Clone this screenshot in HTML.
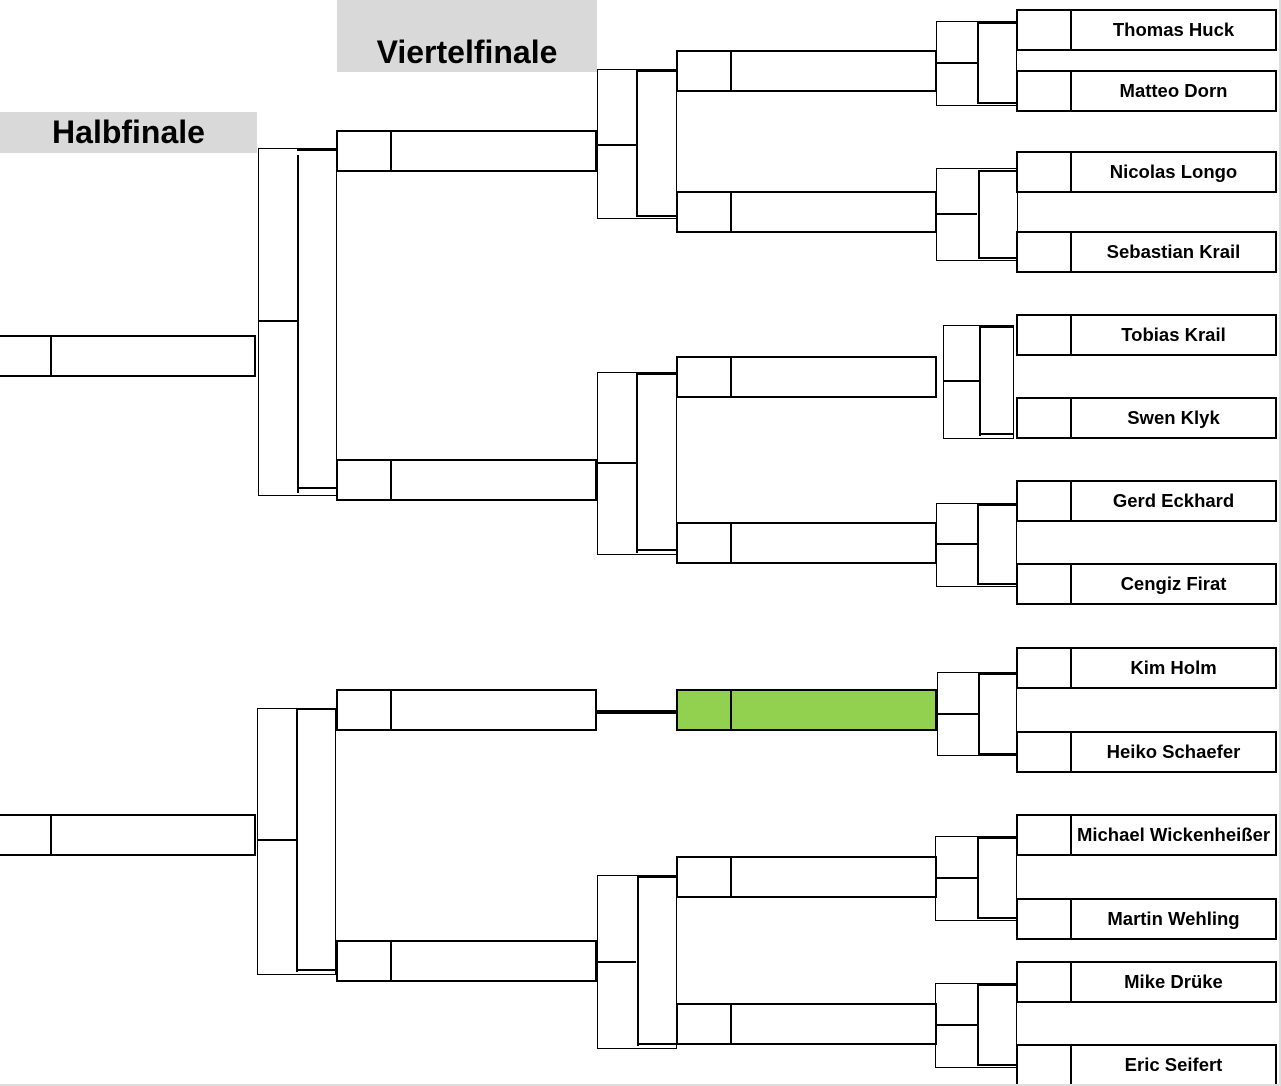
<!DOCTYPE html>
<html><head><meta charset="utf-8"><style>
body{margin:0;width:1281px;height:1086px;position:relative;overflow:hidden;background:#fff;font-family:"Liberation Sans",Arial,sans-serif}
div{position:absolute;box-sizing:border-box}
.b{border:2px solid #000;height:42px;background:#fff}
.b i{position:absolute;left:52px;top:0;bottom:0;border-left:2px solid #000}
.b span{position:absolute;left:54px;right:0;top:0;bottom:0;display:flex;align-items:center;justify-content:center;font-weight:bold;font-size:18.5px;color:#000;white-space:nowrap}
.c{border:1px solid #000}
.h{background:#000;height:2px}
.v{background:#000;width:2px}
.hd{background:#d9d9d9;font-weight:bold;font-size:32px;display:flex;align-items:center;justify-content:center}
</style></head><body>
<div class="hd" style="left:0;top:112px;width:257px;height:41px">Halbfinale</div>
<div class="hd" style="left:337px;top:0;width:260px;height:72px;padding-top:32px">Viertelfinale</div>

<div class="b" style="left:-2px;top:335px;width:258px"><i style="left:50px"></i></div>
<div class="b" style="left:-2px;top:814px;width:258px"><i style="left:50px"></i></div>

<div class="b" style="left:336px;top:130px;width:261px"><i></i></div>
<div class="b" style="left:336px;top:459px;width:261px"><i></i></div>
<div class="b" style="left:336px;top:689px;width:261px"><i></i></div>
<div class="b" style="left:336px;top:940px;width:261px"><i></i></div>

<div class="b" style="left:676px;top:50px;width:261px"><i></i></div>
<div class="b" style="left:676px;top:191px;width:261px"><i></i></div>
<div class="b" style="left:676px;top:356px;width:261px"><i></i></div>
<div class="b" style="left:676px;top:522px;width:261px"><i></i></div>
<div class="b" style="left:676px;top:689px;width:261px;background:#92d050"><i></i></div>
<div class="b" style="left:676px;top:856px;width:261px"><i></i></div>
<div class="b" style="left:676px;top:1003px;width:261px"><i></i></div>

<div class="b" style="left:1016px;top:9px;width:261px"><i></i><span>Thomas Huck</span></div>
<div class="b" style="left:1016px;top:70px;width:261px"><i></i><span>Matteo Dorn</span></div>
<div class="b" style="left:1016px;top:151px;width:261px"><i></i><span>Nicolas Longo</span></div>
<div class="b" style="left:1016px;top:231px;width:261px"><i></i><span>Sebastian Krail</span></div>
<div class="b" style="left:1016px;top:314px;width:261px"><i></i><span>Tobias Krail</span></div>
<div class="b" style="left:1016px;top:397px;width:261px"><i></i><span>Swen Klyk</span></div>
<div class="b" style="left:1016px;top:480px;width:261px"><i></i><span>Gerd Eckhard</span></div>
<div class="b" style="left:1016px;top:563px;width:261px"><i></i><span>Cengiz Firat</span></div>
<div class="b" style="left:1016px;top:647px;width:261px"><i></i><span>Kim Holm</span></div>
<div class="b" style="left:1016px;top:731px;width:261px"><i></i><span>Heiko Schaefer</span></div>
<div class="b" style="left:1016px;top:814px;width:261px"><i></i><span>Michael Wickenheißer</span></div>
<div class="b" style="left:1016px;top:898px;width:261px"><i></i><span>Martin Wehling</span></div>
<div class="b" style="left:1016px;top:961px;width:261px"><i></i><span>Mike Drüke</span></div>
<div class="b" style="left:1016px;top:1044px;width:261px"><i></i><span>Eric Seifert</span></div>

<div class="c" style="left:258px;top:148px;width:79px;height:348px"></div>
<div class="h" style="left:259px;top:320px;width:38px"></div>
<div class="v" style="left:297px;top:155px;height:338px"></div>
<div class="h" style="left:297px;top:149px;width:39px"></div>
<div class="h" style="left:297px;top:487px;width:39px"></div>

<div class="c" style="left:257px;top:708px;width:79px;height:267px"></div>
<div class="h" style="left:258px;top:839px;width:38px"></div>
<div class="v" style="left:296px;top:710px;height:262px"></div>
<div class="h" style="left:296px;top:708px;width:40px"></div>
<div class="h" style="left:296px;top:969px;width:40px"></div>

<div class="c" style="left:597px;top:69px;width:80px;height:150px"></div>
<div class="h" style="left:598px;top:144px;width:38px"></div>
<div class="v" style="left:636px;top:70px;height:147px"></div>
<div class="h" style="left:636px;top:70px;width:40px"></div>
<div class="h" style="left:636px;top:215px;width:40px"></div>

<div class="c" style="left:597px;top:372px;width:80px;height:183px"></div>
<div class="h" style="left:598px;top:462px;width:38px"></div>
<div class="v" style="left:636px;top:373px;height:180px"></div>
<div class="h" style="left:636px;top:373px;width:40px"></div>
<div class="h" style="left:636px;top:549px;width:40px"></div>

<div class="h" style="left:596px;top:710px;width:80px;height:4px"></div>

<div class="c" style="left:597px;top:875px;width:80px;height:174px"></div>
<div class="h" style="left:598px;top:961px;width:38px"></div>
<div class="v" style="left:637px;top:876px;height:170px"></div>
<div class="h" style="left:637px;top:876px;width:39px"></div>
<div class="h" style="left:637px;top:1043px;width:39px"></div>

<div class="c" style="left:936px;top:21px;width:81px;height:85px"></div>
<div class="h" style="left:937px;top:62px;width:40px"></div>
<div class="v" style="left:977px;top:22px;height:82px"></div>
<div class="h" style="left:977px;top:22px;width:40px"></div>
<div class="h" style="left:977px;top:102px;width:40px"></div>

<div class="c" style="left:936px;top:168px;width:82px;height:93px"></div>
<div class="h" style="left:937px;top:213px;width:40px"></div>
<div class="v" style="left:978px;top:170px;height:89px"></div>
<div class="h" style="left:978px;top:170px;width:40px"></div>
<div class="h" style="left:978px;top:257px;width:40px"></div>

<div class="c" style="left:943px;top:325px;width:71px;height:114px"></div>
<div class="h" style="left:944px;top:380px;width:35px"></div>
<div class="v" style="left:979px;top:326px;height:110px"></div>
<div class="h" style="left:979px;top:326px;width:35px"></div>
<div class="h" style="left:979px;top:433px;width:35px"></div>

<div class="c" style="left:936px;top:503px;width:81px;height:84px"></div>
<div class="h" style="left:937px;top:543px;width:40px"></div>
<div class="v" style="left:977px;top:504px;height:81px"></div>
<div class="h" style="left:977px;top:504px;width:40px"></div>
<div class="h" style="left:977px;top:583px;width:40px"></div>

<div class="c" style="left:937px;top:672px;width:80px;height:84px"></div>
<div class="h" style="left:938px;top:713px;width:40px"></div>
<div class="v" style="left:978px;top:673px;height:81px"></div>
<div class="h" style="left:978px;top:673px;width:39px"></div>
<div class="h" style="left:978px;top:753px;width:39px"></div>

<div class="c" style="left:935px;top:836px;width:82px;height:85px"></div>
<div class="h" style="left:936px;top:877px;width:41px"></div>
<div class="v" style="left:977px;top:837px;height:82px"></div>
<div class="h" style="left:977px;top:837px;width:40px"></div>
<div class="h" style="left:977px;top:917px;width:40px"></div>

<div class="c" style="left:935px;top:983px;width:82px;height:85px"></div>
<div class="h" style="left:936px;top:1024px;width:41px"></div>
<div class="v" style="left:977px;top:984px;height:82px"></div>
<div class="h" style="left:977px;top:984px;width:40px"></div>
<div class="h" style="left:977px;top:1064px;width:40px"></div>

<div style="left:0;top:1084px;width:1281px;height:2px;background:#ddd"></div>
<div style="left:1279px;top:0;width:2px;height:1086px;background:#ddd"></div>
</body></html>
